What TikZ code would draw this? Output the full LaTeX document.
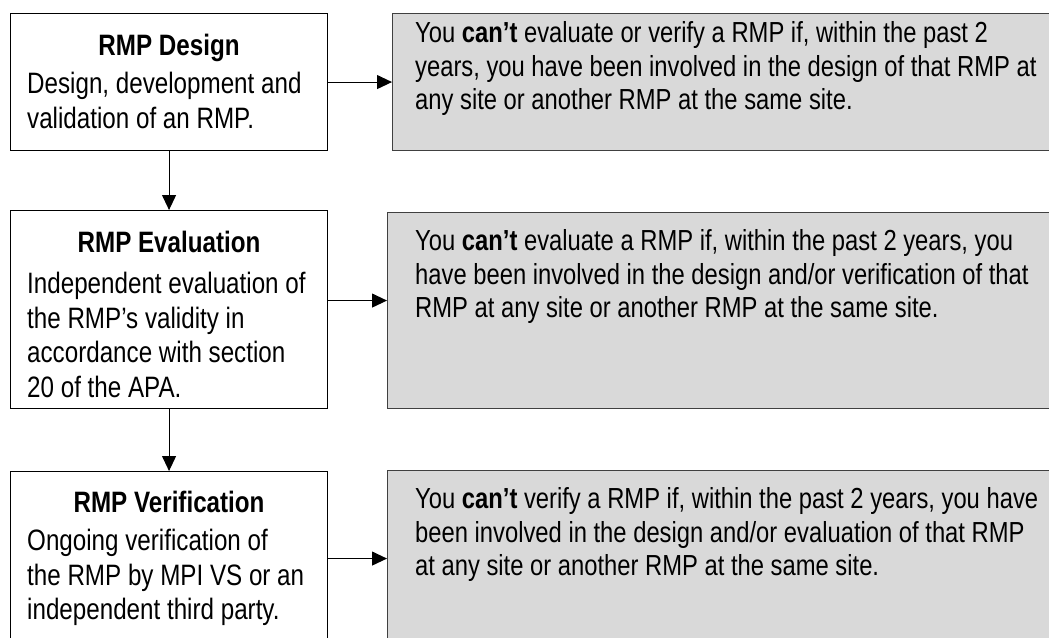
\documentclass[tikz,border=0pt]{standalone}
\usepackage{fontspec}
\setmainfont{Liberation Sans}[FakeStretch=0.82]
\usetikzlibrary{arrows.meta,calc}

\tikzset{
  stagebox/.style={draw=black, line width=1.1pt, fill=white, inner sep=0pt, anchor=north west},
  rulebox/.style={draw=black!75, line width=1.3pt, fill=black!15, inner sep=0pt, anchor=north west},
  boxtext/.style={inner sep=0pt, align=left, anchor=north west, font=\fontsize{29.5}{34.5}\selectfont},
  ruletext/.style={inner sep=0pt, align=left, anchor=north west, font=\fontsize{29}{33.8}\selectfont},
  headtext/.style={inner sep=0pt, anchor=base, font=\fontsize{29.5}{34.5}\selectfont\bfseries},
  flow/.style={line width=1.1pt, -{Triangle[length=15pt,width=14pt]}}
}

\begin{document}
\begin{tikzpicture}[x=1pt,y=-1pt]
  \useasboundingbox (0,0) rectangle (1049,637);
  \clip (0,0) rectangle (1049,637);

  % stage boxes on the left
  \node[stagebox, minimum width=317pt, minimum height=137pt] (design) at (10,13) {};
  \node[stagebox, minimum width=317pt, minimum height=198pt] (eval) at (10,210) {};
  \node[stagebox, minimum width=317pt, minimum height=174pt] (verif) at (10,471) {};

  % restriction boxes on the right (running off the page edge)
  \node[rulebox, minimum width=680pt, minimum height=137pt] (ruleD) at (392,13) {};
  \node[rulebox, minimum width=680pt, minimum height=196pt] (ruleE) at (387,212) {};
  \node[rulebox, minimum width=680pt, minimum height=180pt] (ruleV) at (387,470) {};

  % stage headings
  \node[headtext] (designH) at ($(design.north)+(0,42)$) {RMP Design};
  \node[headtext] (evalH) at ($(eval.north)+(0,42)$) {RMP Evaluation};
  \node[headtext] (verifH) at ($(verif.north)+(0,41)$) {RMP Verification};

  % stage descriptions
  \node[boxtext] (designT) at (27,72)
    {Design, development and\\validation of an RMP.};
  \node[boxtext] (evalT) at (27,272)
    {Independent evaluation of\\the RMP’s validity in\\accordance with section\\20 of the APA.};
  \node[boxtext] (verifT) at (27,529)
    {Ongoing verification of\\the RMP by MPI VS or an\\independent third party.};

  % restriction texts
  \node[ruletext] (ruleDT) at (415,21)
    {You \textbf{can’t} evaluate or verify a RMP if, within the past 2\\years, you have been involved in the design of that RMP at\\any site or another RMP at the same site.};
  \node[ruletext] (ruleET) at (415,229)
    {You \textbf{can’t} evaluate a RMP if, within the past 2 years, you\\have been involved in the design and/or verification of that\\RMP at any site or another RMP at the same site.};
  \node[ruletext] (ruleVT) at (415,487)
    {You \textbf{can’t} verify a RMP if, within the past 2 years, you have\\been involved in the design and/or evaluation of that RMP\\at any site or another RMP at the same site.};

  % connectors
  \draw[flow] (design.south) -- (eval.north);
  \draw[flow] (eval.south) -- (verif.north);
  \draw[flow] (design.east) -- (design.east -| ruleD.west);
  \draw[flow] ([yshift=9pt]eval.east) -- ([yshift=9pt]eval.east -| ruleE.west);
  \draw[flow] (verif.east) -- (verif.east -| ruleV.west);
\end{tikzpicture}
\end{document}
